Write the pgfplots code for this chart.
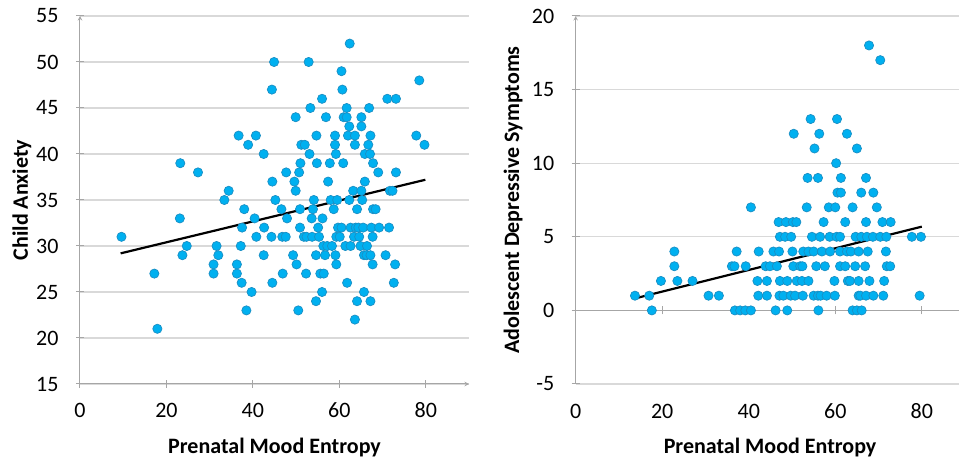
\documentclass[border=0pt]{standalone}
\usepackage{fontspec}
\setmainfont{Carlito}
\usepackage{pgfplots}
\usepackage{pgfplotstable}
\pgfplotsset{compat=1.18}

\definecolor{dot}{HTML}{00B0F0}
\definecolor{dotedge}{HTML}{1A8FC4}
\definecolor{gridc}{HTML}{D9D9D9}
\definecolor{axc}{HTML}{A6A6A6}

% child anxiety vs prenatal mood entropy
\pgfplotstableread{
x y
9.6 31
17.2 27
17.9 21
23.2 39
23.1 33
23.7 29
24.7 30
27.3 38
30.9 28
30.9 27
31.6 30
32.0 29
33.4 35
34.4 36
36.7 42
36.3 28
36.3 27
37.2 30
37.4 26
37.5 32
38.0 34
38.5 23
38.9 41
39.7 25
40.7 42
40.4 33
40.8 31
42.5 40
42.6 32
42.5 29
44.4 47
44.9 50
44.5 37
44.3 31
44.5 26
45.2 35
46.6 34
46.8 31
46.9 27
47.6 31
47.7 38
47.9 33
49.3 29
49.6 37
49.9 36
49.9 44
50.1 28
50.5 23
50.7 38
50.9 34
51.0 39
51.2 41
50.9 32
51.8 31
52.0 41
52.3 27
52.4 31
52.9 50
53.1 40
53.3 45
53.6 33
53.7 31
53.9 34
54.1 35
54.6 24
54.6 29
54.7 42
54.8 39
55.1 32
55.3 31
55.6 27
56.0 46
56.0 25
56.1 33
56.3 30
56.4 27
56.7 29
56.9 44
57.2 30
57.4 37
57.8 39
58.0 35
58.3 30
58.7 34
59.0 42
59.0 41
59.1 29
59.2 40
59.3 28
59.3 31
59.5 35
59.7 32
60.1 31
60.5 49
60.7 47
60.5 32
60.9 39
61.0 44
61.4 30
61.7 45
61.7 44
61.8 26
62.0 42
62.3 43
62.4 52
62.6 30
62.3 35
62.6 32
63.2 36
63.4 31
63.6 42
63.6 41
63.6 22
63.8 32
64.1 34
64.1 24
64.4 32
64.6 31
64.9 30
65.1 43
65.1 44
65.1 36
65.3 35
65.5 32
65.7 29
65.7 25
65.9 40
65.9 37
66.3 29
66.4 30
66.7 41
66.9 45
67.1 40
67.2 29
67.2 24
67.2 42
67.4 32
67.7 28
67.7 31
67.8 39
67.8 34
68.4 34
69.0 38
69.2 32
70.7 29
71.1 46
71.5 32
71.7 36
72.3 36
72.6 26
72.9 28
73.1 38
73.1 46
77.8 42
78.5 48
79.7 41
}\anxiety

% adolescent depressive symptoms vs prenatal mood entropy
\pgfplotstableread{
x y
67.8 18
70.4 17
54.3 13
60.4 13
50.4 12
56.3 12
62.7 12
55.2 11
65.0 11
60.2 10
53.6 9
56.0 9
61.3 9
67.1 9
60.5 8
61.3 8
66.0 8
68.8 8
40.5 7
53.4 7
58.5 7
60.0 7
64.0 7
69.6 7
46.9 6
48.6 6
50.2 6
51.0 6
57.3 6
62.3 6
67.1 6
70.9 6
72.8 6
47.2 5
48.4 5
49.8 5
54.6 5
56.5 5
58.7 5
60.3 5
61.1 5
64.7 5
66.0 5
67.3 5
68.7 5
70.4 5
71.8 5
77.7 5
79.8 5
22.8 4
37.2 4
42.3 4
45.7 4
47.0 4
50.1 4
52.6 4
53.8 4
55.0 4
56.9 4
58.8 4
61.1 4
62.7 4
63.6 4
65.4 4
67.5 4
71.7 4
22.8 3
36.1 3
36.7 3
39.3 3
43.9 3
44.9 3
46.5 3
50.3 3
51.9 3
52.4 3
55.6 3
57.6 3
61.1 3
62.3 3
64.6 3
66.9 3
71.9 3
72.7 3
19.7 2
23.5 2
27.0 2
42.0 2
44.2 2
47.2 2
48.9 2
51.1 2
52.3 2
53.8 2
59.8 2
62.9 2
63.4 2
65.4 2
67.9 2
71.3 2
13.7 1
17.0 1
30.7 1
33.1 1
42.2 1
44.2 1
47.1 1
48.0 1
49.7 1
50.7 1
52.5 1
55.0 1
56.0 1
56.6 1
58.0 1
59.9 1
65.4 1
65.8 1
67.1 1
68.8 1
71.1 1
79.5 1
17.6 0
36.8 0
38.0 0
39.2 0
40.5 0
46.2 0
48.9 0
56.1 0
64.0 0
65.0 0
66.1 0
}\depress

\pgfplotsset{panel/.style={
    scale only axis, height=368pt,
    xmin=0, xtick={0,20,40,60,80},
    ymajorgrids, grid style={gridc, line width=1.2pt},
    tick align=outside, major tick length=8pt,
    tick style={axc, line width=1pt},
    axis line style={axc, line width=1pt, -},
    font=\fontsize{22}{26}\selectfont,
    /pgf/number format/assume math mode=true,
    yticklabel style={anchor=east, xshift=-14pt},
    xticklabel style={anchor=base, yshift=-30pt},
    axis lines=left,
    clip=false,
    x label style={at={(axis description cs:0.5,0)}, anchor=base, yshift=-69pt,
      font=\fontsize{22}{26}\selectfont\bfseries},
    y label style={at={(axis description cs:0,0.5)}, anchor=base,
      font=\fontsize{22}{26}\selectfont\bfseries},
  },
  dots/.style={only marks, mark=*, mark size=4.6pt,
    mark options={fill=dot, draw=dotedge, line width=0.7pt}},
  trend/.style={black, line width=2.2pt, no marks},
}

\begin{document}
\begin{tikzpicture}
\useasboundingbox (0pt,0pt) rectangle (959pt,466pt);

\begin{axis}[panel,
    at={(80pt,82pt)}, anchor=south west,
    width=389pt, xmax=90,
    ymin=15, ymax=55, ytick={15,20,...,55},
    xlabel={Prenatal Mood Entropy},
    ylabel={Child Anxiety},
    y label style={yshift=52pt},
  ]
  \addplot[dots] table {\anxiety};
  \addplot[trend] coordinates {(9.4,29.2) (79.9,37.2)};
\end{axis}

\begin{axis}[panel,
    at={(575.7pt,82pt)}, anchor=south west,
    width=383.3pt, xmax=88.6,
    ymin=-5, ymax=20, ytick={-5,0,...,20},
    x axis line style={draw=none},
    xtick style={axc, line width=1pt, yshift=73.6pt},
    extra y ticks={0}, extra y tick labels={},
    extra y tick style={grid style={axc, line width=1pt}, major tick length=0pt},
    xlabel={Prenatal Mood Entropy},
    x label style={at={(axis description cs:0.507,0)}},
    ylabel={Adolescent Depressive Symptoms},
    y label style={yshift=56.7pt},
  ]
  \addplot[dots] table {\depress};
  \addplot[trend] coordinates {(13.8,0.82) (80.0,5.69)};
\end{axis}
\end{tikzpicture}
\end{document}
